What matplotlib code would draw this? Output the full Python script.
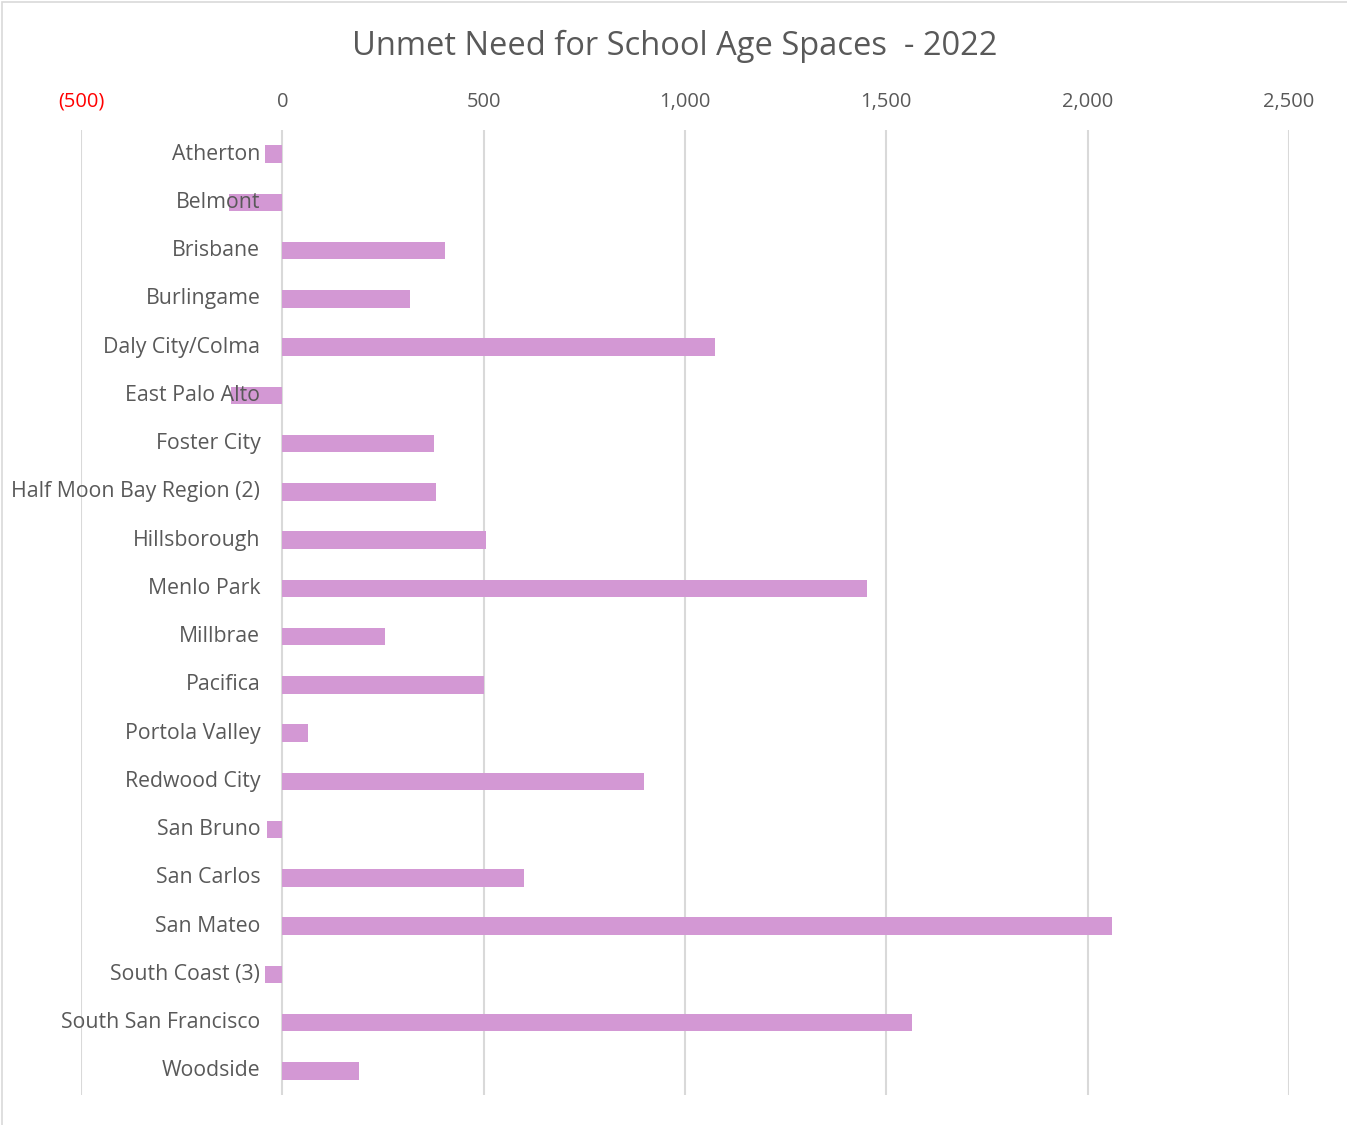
import matplotlib.pyplot as plt
from matplotlib.patches import Rectangle
from matplotlib.ticker import FuncFormatter
import matplotlib.transforms as mtransforms

# Unmet need for school age spaces by city, 2022
cities = [
    "Atherton", "Belmont", "Brisbane", "Burlingame", "Daly City/Colma",
    "East Palo Alto", "Foster City", "Half Moon Bay Region (2)", "Hillsborough",
    "Menlo Park", "Millbrae", "Pacifica", "Portola Valley", "Redwood City",
    "San Bruno", "San Carlos", "San Mateo", "South Coast (3)",
    "South San Francisco", "Woodside",
]
unmet_need = [
    -44, -133, 403, 318, 1075,
    -128, 377, 381, 505,
    1453, 254, 500, 63, 898,
    -37, 600, 2061, -44,
    1564, 190,
]
x_ticks = [-500, 0, 500, 1000, 1500, 2000, 2500]

TEXT = "#595959"
GRID = "#D9D9D9"
BAR = "#D398D4"

plt.rcParams["font.family"] = ["Open Sans", "DejaVu Sans"]

fig = plt.figure(figsize=(13.47, 11.25), dpi=100)
ax = fig.add_axes([0.0601, 0.0267, 0.8967, 0.8577])

ypos = list(range(len(cities)))
ax.barh(ypos, unmet_need, height=0.36, color=BAR, zorder=2)

ax.set_xlim(-500, 2500)
ax.set_ylim(len(cities) - 0.5, -0.5)
ax.set_xticks(x_ticks)
ax.xaxis.tick_top()
ax.xaxis.set_major_formatter(
    FuncFormatter(lambda v, _: f"({abs(v):,.0f})" if v < 0 else f"{v:,.0f}"))
ax.tick_params(axis="x", length=0, pad=13, labelsize=14.5, colors=TEXT)
for lab, v in zip(ax.get_xticklabels(), x_ticks):
    if v < 0:
        lab.set_color("red")
ax.set_yticks([])
ax.grid(axis="x", color=GRID, linewidth=1.5, zorder=0)
for s in ax.spines.values():
    s.set_visible(False)

# category labels sit beside the zero line
lab_tr = mtransforms.offset_copy(ax.transData, fig=fig, x=-22, y=0, units="dots")
for i, name in enumerate(cities):
    ax.text(0, i, name, transform=lab_tr, ha="right", va="center",
            fontsize=15.3, color=TEXT, zorder=3)

fig.text(0.501, 0.959, "Unmet Need for School Age Spaces  - 2022",
         ha="center", va="center", fontsize=23.5, color=TEXT)

fig.patches.append(Rectangle((0.0015, -0.01), 1.2, 1.008, transform=fig.transFigure,
                             fill=False, edgecolor=GRID, linewidth=1.2))

fig.savefig("out.png", dpi=100)
